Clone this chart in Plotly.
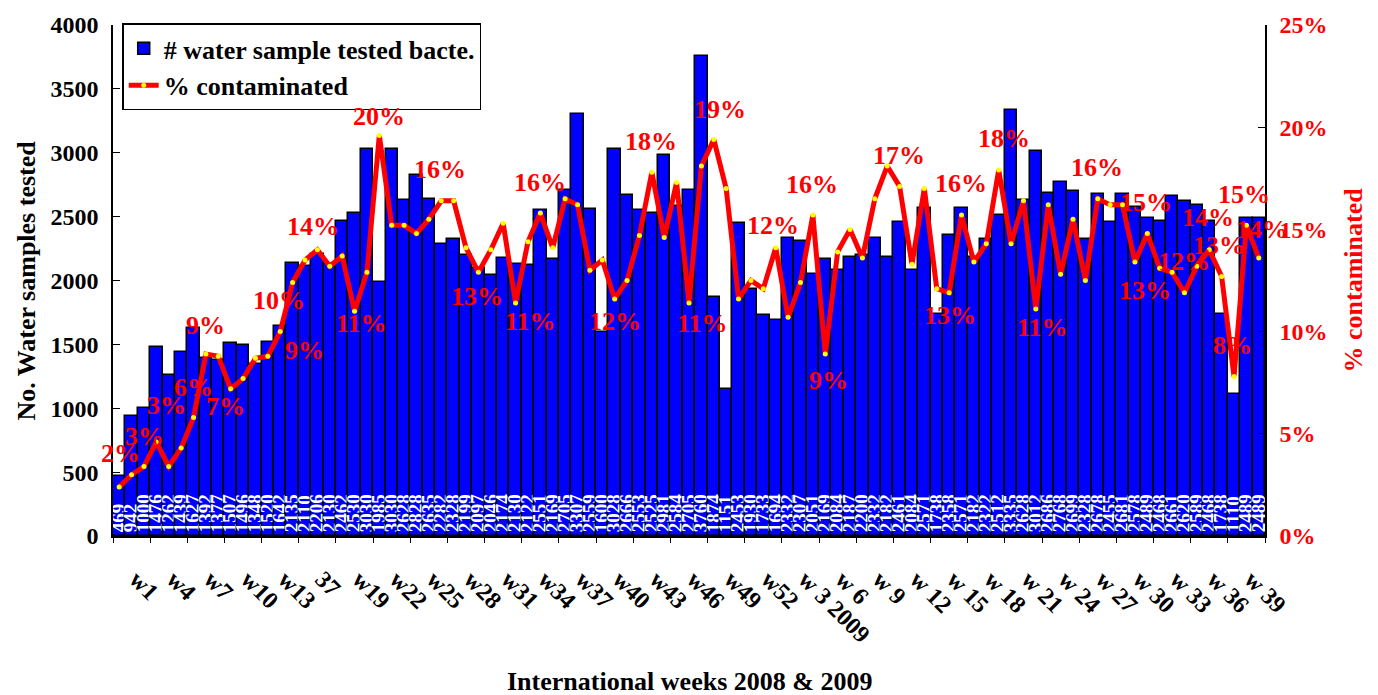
import plotly.graph_objects as go

# ---------------- data ----------------
samples = [469, 942, 1000, 1476, 1262, 1439, 1627, 1392, 1377, 1507,
           1496, 1348, 1520, 1642, 2135, 2110, 2206, 2130, 2462, 2530,
           3030, 1985, 3030, 2628, 2828, 2635, 2282, 2328, 2199, 2097,
           2046, 2174, 2130, 2122, 2551, 2169, 2705, 3307, 2559, 1600,
           3028, 2666, 2553, 2525, 2981, 2584, 2705, 3760, 1874, 1151,
           2453, 1930, 1733, 1694, 2332, 2307, 2051, 2169, 2084, 2187,
           2200, 2332, 2182, 2461, 2084, 2571, 1738, 2358, 2571, 2182,
           2322, 2512, 3335, 2628, 3012, 2686, 2768, 2699, 2328, 2678,
           2455, 2681, 2578, 2489, 2468, 2661, 2620, 2589, 2468, 1738,
           1110, 2489, 2489]

pct_contaminated = [2.4, 3.0, 3.4, 4.6, 3.4, 4.3, 5.8, 8.9, 8.8, 7.2,
                    7.7, 8.7, 8.8, 10.0, 12.4, 13.5, 14.0, 13.2, 13.7, 11.0,
                    12.9, 19.6, 15.2, 15.2, 14.8, 15.5, 16.4, 16.4, 14.1, 12.9,
                    14.0, 15.3, 11.4, 14.4, 15.8, 14.1, 16.5, 16.2, 13.0, 13.5,
                    11.6, 12.5, 14.7, 17.8, 14.6, 17.3, 11.4, 18.1, 19.4, 17.0,
                    11.6, 12.5, 12.1, 14.1, 10.7, 12.4, 15.7, 8.9, 13.9, 15.0,
                    13.6, 16.5, 18.1, 17.1, 13.3, 17.0, 12.1, 11.9, 15.7, 13.4,
                    14.3, 17.9, 14.3, 16.4, 11.1, 16.2, 12.8, 15.5, 12.5, 16.5,
                    16.2, 16.2, 13.4, 14.8, 13.1, 12.9, 11.9, 13.2, 14.0, 12.7,
                    7.8, 15.2, 13.6]

week_labels = ["w1", "w4", "w7", "w10", "w13", "37", "w19", "w22", "w25", "w28",
               "w31", "w34", "w37", "w40", "w43", "w46", "w49", "w52", "w 3 2009",
               "w 6", "w 9", "w 12", "w 15", "w 18", "w 21", "w 24", "w 27",
               "w 30", "w 33", "w 36", "w 39"]

pct_ticks = [0, 5, 10, 15, 20, 25]
pct_tick_text = ["0%", "5%", "10%", "15%", "20%", "25%"]

# data labels shown on the % line: point index, text, pixel offset (dx, dy)
label_idx = [0, 2, 4, 6, 7, 9, 13, 12, 16, 19, 21, 26, 29, 32, 34, 40, 43, 46,
             48, 52, 56, 57, 63, 67, 68, 71, 74, 79, 83, 82, 86, 88, 89, 90, 91, 92]
label_text = ["2%", "3%", "3%", "6%", "9%", "7%", "10%", "9%", "14%", "11%", "20%",
              "16%", "13%", "11%", "16%", "12%", "18%", "11%", "19%", "12%", "16%",
              "9%", "17%", "13%", "16%", "18%", "11%", "16%", "15%", "13%", "12%",
              "14%", "13%", "8%", "15%", "14%"]
label_dx = [1, 1, -2, 0, 0, -5, -1, 37, -4, 7, 0, -1, -1, 15, 0, 0, -1, 13,
            6, 10, -1, 3, -1, 1, -1, 5, 7, -1, -1, 10, 0, -1, -3, -2, -2, 3]
label_dy = [-33, -30, -61, -30, -29, 18, -31, -6, -23, 12, -19, -31, 24, 19, -31, 23, -31, 21,
            -30, -63, -31, 26, -31, 23, -32, -32, 18, -31, -31, 28, -31, -32, -31, -31, -31, -29]

n = len(samples)
x = list(range(n))

SERIF = "Liberation Serif"

fig = go.Figure()
fig.add_trace(go.Bar(
    x=x, y=samples, name="# water sample tested bacte.",
    marker=dict(color="#0000FF", line=dict(color="black", width=1.5)),
    text=[str(v) for v in samples], textposition="inside",
    insidetextanchor="start", textangle=-90, constraintext="none",
    textfont=dict(family=SERIF, size=19, color="white", weight="bold"),
    hoverinfo="skip",
))
fig.add_trace(go.Scatter(
    x=x, y=pct_contaminated, name="% contaminated", yaxis="y2",
    mode="lines+markers",
    line=dict(color="#FF0000", width=5),
    marker=dict(color="#FFFF00", size=5, line=dict(width=0)),
    hoverinfo="skip",
))

annotations = []
for i, t, dx, dy in zip(label_idx, label_text, label_dx, label_dy):
    annotations.append(dict(
        x=i, y=pct_contaminated[i], xref="x", yref="y2", text=t,
        showarrow=False, xshift=dx, yshift=-dy, xanchor="center", yanchor="middle",
        font=dict(family=SERIF, size=26, color="#FF0000", weight="bold"),
    ))

# axis titles
annotations.append(dict(
    x=-0.0755, y=0.5, xref="paper", yref="paper", text="No. Water samples tested",
    textangle=-90, showarrow=False, xanchor="center", yanchor="middle",
    font=dict(family=SERIF, size=26, color="black", weight="bold")))
annotations.append(dict(
    x=1.0764, y=0.5, xref="paper", yref="paper", text="% contaminated",
    textangle=-90, showarrow=False, xanchor="center", yanchor="middle",
    font=dict(family=SERIF, size=26, color="#FF0000", weight="bold")))
annotations.append(dict(
    x=0.5, y=-0.284, xref="paper", yref="paper", text="International weeks 2008 & 2009",
    showarrow=False, xanchor="center", yanchor="middle",
    font=dict(family=SERIF, size=26, color="black", weight="bold")))

label_pos = [3 * k + 1.4 for k in range(len(week_labels))]
boundary_pos = [3 * k - 0.5 for k in range(len(week_labels) + 1)]

fig.update_layout(
    width=1378, height=695,
    margin=dict(l=113, r=113, t=16, b=159, pad=0),
    paper_bgcolor="white", plot_bgcolor="white",
    bargap=0, showlegend=True,
    uniformtext=dict(minsize=19, mode="show"),
    font=dict(family=SERIF, color="black"),
    legend=dict(
        x=0.008, y=1.003, xanchor="left", yanchor="top",
        bgcolor="white", bordercolor="black", borderwidth=1.5,
        font=dict(family=SERIF, size=26, color="black", weight="bold"),
        tracegroupgap=0,
    ),
    xaxis=dict(
        range=[-0.5, n - 0.5], showgrid=False, zeroline=False,
        showline=True, linecolor="black", linewidth=1.5,
        tickmode="array", tickvals=label_pos, ticktext=week_labels,
        ticks="", tickangle=45,
        tickfont=dict(family=SERIF, size=24, color="black", weight="bold"),
        minor=dict(tickmode="array", tickvals=boundary_pos, ticks="outside",
                   ticklen=5, tickcolor="black", tickwidth=1, showgrid=False),
        ticklabelstandoff=18,
    ),
    yaxis=dict(
        range=[0, 4000], showgrid=False, zeroline=False,
        showline=True, linecolor="black", linewidth=1.5,
        tickmode="array", tickvals=list(range(0, 4001, 500)),
        ticks="inside", ticklen=7, tickcolor="black",
        tickfont=dict(family=SERIF, size=24, color="black", weight="bold"),
        ticklabelstandoff=8,
    ),
    yaxis2=dict(
        range=[0, 25], overlaying="y", side="right", showgrid=False, zeroline=False,
        showline=True, linecolor="black", linewidth=1.5,
        tickmode="array", tickvals=pct_ticks, ticktext=pct_tick_text,
        ticks="inside", ticklen=7, tickcolor="black",
        tickfont=dict(family=SERIF, size=24, color="#FF0000", weight="bold"),
        ticklabelstandoff=8,
    ),
    annotations=annotations,
)

fig.write_html("out.html", config={"displayModeBar": False},
               post_script="document.body.style.margin='0px';")
